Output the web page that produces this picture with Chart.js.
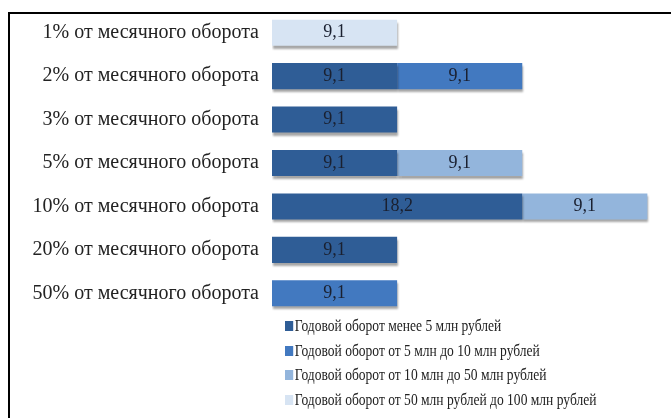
<!DOCTYPE html>
<html>
<head>
<meta charset="utf-8">
<script src="https://cdn.jsdelivr.net/npm/chart.js@4/dist/chart.umd.min.js"></script>
<style>
  html, body { margin:0; padding:0; background:#fff; }
  #wrap { position:relative; width:671px; height:418px; overflow:hidden; }
  #frame { position:absolute; left:8px; top:12px; width:700px; height:500px;
           border-left:2px solid #000; border-top:2px solid #000; }
  #chartbox { position:absolute; left:0; top:-6px; width:671px; height:424px; }
  #legend { position:absolute; left:285px; top:314px; font-family:'Liberation Serif', serif;
            font-size:16.5px; color:#222; line-height:24.7px;
            transform:scaleX(0.82); transform-origin:0 0; }
  #legend div { white-space:nowrap; }
  #legend span { display:inline-block; width:10px; height:10px; margin-right:2px; vertical-align:0px; }
</style>
</head>
<body>
<div id="wrap">
  <div id="frame"></div>
  <div id="chartbox"><canvas id="myChart"></canvas></div>
  <div id="legend"></div>
</div>
<script>
// categories (top to bottom)
var categories = ['1% от месячного оборота','2% от месячного оборота','3% от месячного оборота',
    '5% от месячного оборота','10% от месячного оборота','20% от месячного оборота','50% от месячного оборота'];

// series values, null = no bar
var under5   = [null, 9.1, 9.1, 9.1, 18.2, 9.1, null];
var from5to10  = [null, 9.1, null, null, null, null, 9.1];
var from10to50 = [null, null, null, 9.1, 9.1, null, null];
var from50to100 = [9.1, null, null, null, null, null, null];

var seriesNames = ['Годовой оборот менее 5 млн рублей','Годовой оборот от 5 млн до 10 млн рублей',
    'Годовой оборот от 10 млн до 50 млн рублей','Годовой оборот от 50 млн рублей до 100 млн рублей'];
var seriesColors = ['#2f5d96','#4279c0','#93b5dc','#d7e4f3'];

// value labels inside the bars, "9,1" style
var valueLabels = {
    id:'valueLabels',
    beforeDatasetsDraw: function(chart){
        var ctx = chart.ctx;
        ctx.save();
        ctx.shadowColor = 'rgba(0,0,0,0.35)';
        ctx.shadowOffsetY = 3;
        ctx.shadowOffsetX = 1;
        ctx.shadowBlur = 2;
    },
    afterDatasetsDraw: function(chart){
        var ctx = chart.ctx;
        ctx.restore();
        ctx.save();
        ctx.font = '18px "Liberation Serif", serif';
        ctx.fillStyle = '#1a2030';
        ctx.textAlign = 'center';
        ctx.textBaseline = 'middle';
        chart.data.datasets.forEach(function(ds, i){
            chart.getDatasetMeta(i).data.forEach(function(bar, j){
                var v = ds.data[j];
                if (v == null) return;
                var cx = (bar.x + bar.base) / 2;
                ctx.fillText(String(v).replace('.', ','), cx, bar.y);
            });
        });
        ctx.restore();
    }
};

var datasets = [under5, from5to10, from10to50, from50to100].map(function(d, i){
    return {
        label: seriesNames[i],
        data: d,
        backgroundColor: seriesColors[i],
        borderWidth: 0,
        categoryPercentage: 0.6,
        barPercentage: 1
    };
});

var ctx = document.getElementById('myChart').getContext('2d');
var myChart = new Chart(ctx, {
    type: 'bar',
    data: { labels: categories, datasets: datasets },
    options: {
        indexAxis: 'y',
        responsive: true,
        maintainAspectRatio: false,
        animation: false,
        layout: { padding: { top: 0, right: 14, bottom: 103, left: 0 } },
        plugins: { legend: { display: false }, tooltip: { enabled: false } },
        scales: {
            x: { stacked: true, min: 0, max: 28, display: false },
            y: {
                stacked: true,
                grid: { display: false },
                border: { display: false },
                afterFit: function(s){ s.width = 272; },
                ticks: {
                    color: '#222',
                    padding: 5,
                    font: { family: '"Liberation Serif", serif', size: 20 }
                }
            }
        }
    },
    plugins: [valueLabels]
});

// legend, one item per line
var leg = document.getElementById('legend');
seriesNames.forEach(function(name, i){
    var row = document.createElement('div');
    row.innerHTML = '<span style="background:' + seriesColors[i] + '"></span>' + name;
    leg.appendChild(row);
});
</script>
</body>
</html>
